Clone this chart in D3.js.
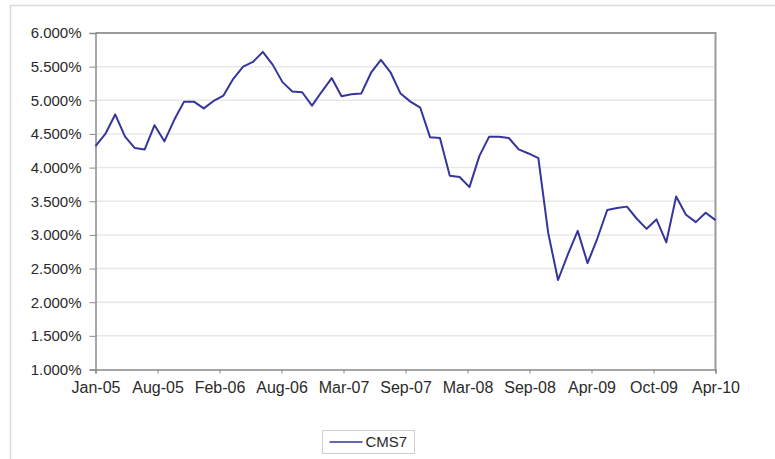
<!DOCTYPE html>
<html>
<head>
<meta charset="utf-8">
<script src="https://cdn.jsdelivr.net/npm/d3@7/dist/d3.min.js"></script>
<style>
  html, body { margin: 0; padding: 0; background: #fff; }
  svg { display: block; }
  text { font-family: "Liberation Sans", Arial, sans-serif; fill: #2a2a2a; }
</style>
</head>
<body>
<svg id="chart" width="775" height="459"></svg>
<script>
// Monthly CMS7 rate, Jan-05 .. Apr-10 (percent)
const cms7 = [
  4.32, 4.50, 4.79, 4.46, 4.29, 4.27, 4.63, 4.39, 4.71, 4.98,
  4.98, 4.88, 4.99, 5.07, 5.32, 5.50, 5.57, 5.72, 5.53, 5.27,
  5.13, 5.12, 4.92, 5.13, 5.33, 5.06, 5.09, 5.10, 5.41, 5.60,
  5.41, 5.10, 4.98, 4.89, 4.45, 4.44, 3.88, 3.86, 3.71, 4.17,
  4.46, 4.46, 4.44, 4.27, 4.21, 4.14, 3.03, 2.33, 2.71, 3.06,
  2.58, 2.95, 3.37, 3.40, 3.42, 3.24, 3.09, 3.23, 2.89, 3.57,
  3.30, 3.19, 3.33, 3.22
];
const xTickLabels = ["Jan-05", "Aug-05", "Feb-06", "Aug-06", "Mar-07", "Sep-07",
                     "Mar-08", "Sep-08", "Apr-09", "Oct-09", "Apr-10"];
const yTicks = [1.0, 1.5, 2.0, 2.5, 3.0, 3.5, 4.0, 4.5, 5.0, 5.5, 6.0];
const seriesName = "CMS7";

const svg = d3.select("#chart");
const L = 95.5, R = 715.5, T = 33, B = 369.5;

// outer frame
svg.append("rect").attr("x", 10.5).attr("y", 5.5).attr("width", 800).attr("height", 500)
  .attr("fill", "none").attr("stroke", "#dcdcdc").attr("stroke-width", 1.5);

const x = d3.scaleLinear().domain([0, cms7.length - 1]).range([L, R]);
const y = d3.scaleLinear().domain([1, 6]).range([B, T]);

// gridlines
svg.append("g").selectAll("line").data(yTicks.filter(d => d > 1 && d < 6)).join("line")
  .attr("x1", L).attr("x2", R)
  .attr("y1", d => y(d)).attr("y2", d => y(d))
  .attr("stroke", "#e8e8e8").attr("stroke-width", 1.5);

// plot border (top / right)
svg.append("path")
  .attr("d", `M${L},${T}H${R}V${B}`)
  .attr("fill", "none").attr("stroke", "#9a9a9a").attr("stroke-width", 2);

// y axis
const yAxis = d3.axisLeft(y).tickValues(yTicks).tickSize(6).tickPadding(8)
  .tickFormat(d => d3.format(".3f")(d) + "%");
const gy = svg.append("g").attr("transform", `translate(${L},0)`).call(yAxis);
gy.select(".domain").attr("stroke", "#8a8a8a").attr("stroke-width", 1.5);
gy.selectAll(".tick line").attr("stroke", "#8a8a8a");
gy.selectAll("text").attr("font-size", 15).attr("fill", "#2a2a2a")
  .attr("font-family", "Liberation Sans, Arial, sans-serif");

// x axis
const xTickVals = xTickLabels.map((d, i) => i * (cms7.length - 1) / (xTickLabels.length - 1));
const xAxis = d3.axisBottom(x).tickValues(xTickVals).tickSize(4).tickPadding(8)
  .tickFormat((d, i) => xTickLabels[i]);
const gx = svg.append("g").attr("transform", `translate(0,${B})`).call(xAxis);
gx.select(".domain").attr("stroke", "#8a8a8a").attr("stroke-width", 1.5);
gx.selectAll(".tick line").attr("stroke", "#8a8a8a");
gx.selectAll("text").attr("font-size", 16).attr("fill", "#2a2a2a")
  .attr("font-family", "Liberation Sans, Arial, sans-serif");

// line
const line = d3.line().x((d, i) => x(i)).y(d => y(d));
svg.append("path").datum(cms7)
  .attr("d", line)
  .attr("fill", "none").attr("stroke", "#35359c").attr("stroke-width", 2)
  .attr("stroke-linejoin", "round");

// legend
const lg = svg.append("g").attr("transform", "translate(322.5,430.5)");
lg.append("rect").attr("width", 92).attr("height", 23)
  .attr("fill", "#fff").attr("stroke", "#d0d0d0").attr("stroke-width", 1);
lg.append("line").attr("x1", 7).attr("x2", 40).attr("y1", 11.5).attr("y2", 11.5)
  .attr("stroke", "#35359c").attr("stroke-width", 1.5);
lg.append("text").attr("x", 43).attr("y", 11.5).attr("dy", "0.35em")
  .attr("font-size", 15).text(seriesName);
</script>
</body>
</html>
